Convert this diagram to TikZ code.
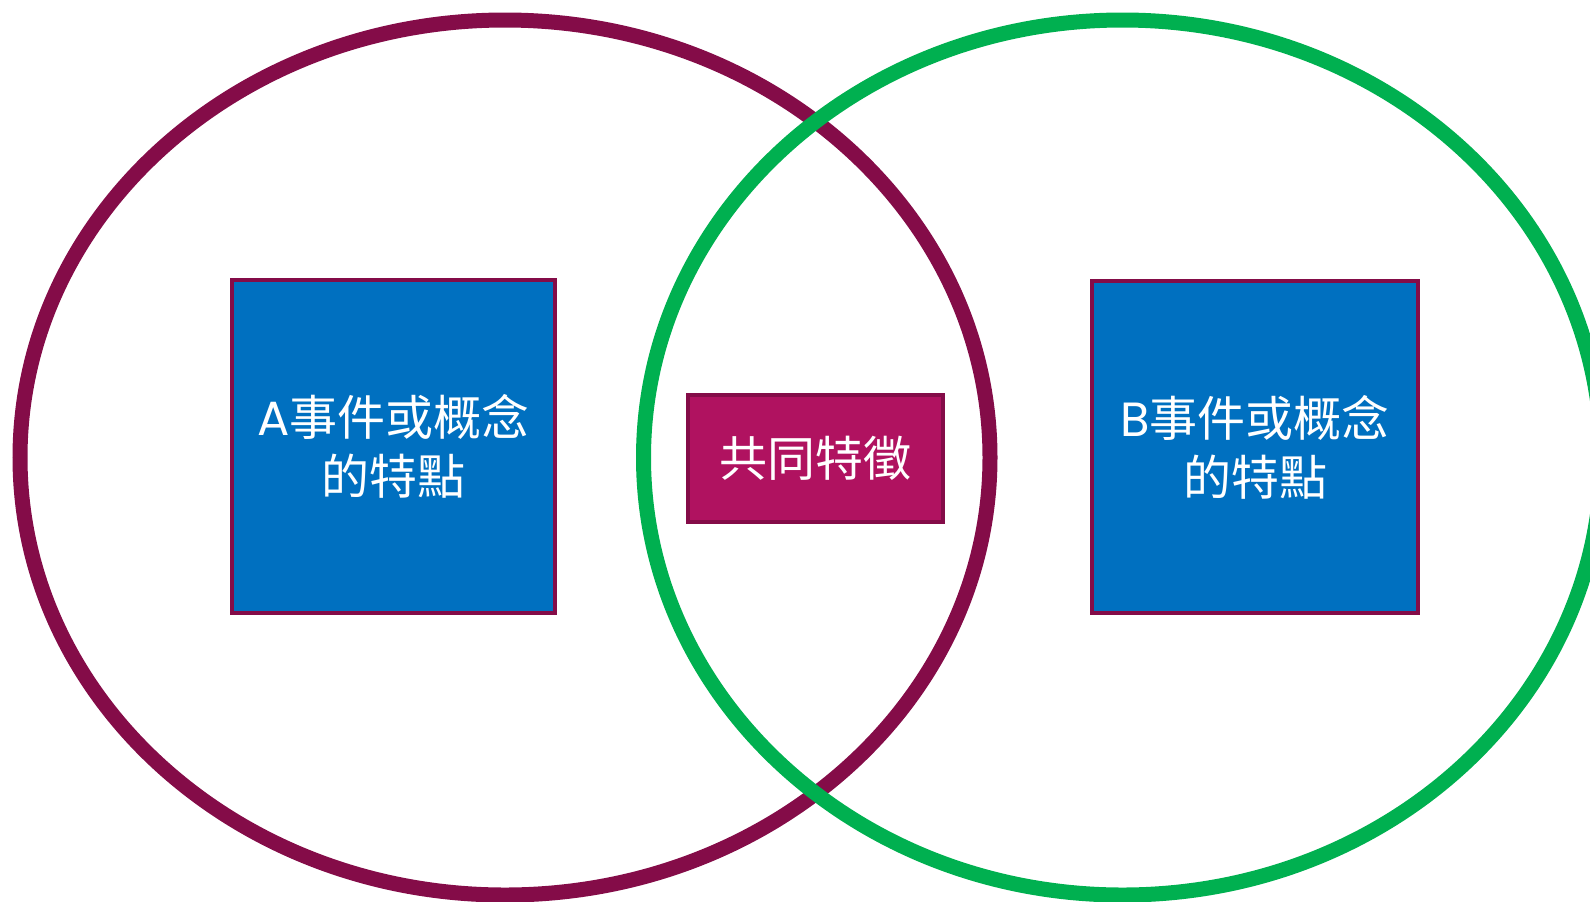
\documentclass[tikz,border=0pt]{standalone}
\usepackage{fontspec}
\newfontfamily\cjk{Noto Sans CJK TC}
\newfontfamily\latinf{Poppins}
\definecolor{plum}{HTML}{840C48}
\definecolor{vgreen}{HTML}{00B050}
\definecolor{vblue}{HTML}{0070C0}
\definecolor{vmag}{HTML}{B01260}
\tikzset{
  ring/.style={line width=7.5pt},
  featbox/.style={draw=plum, line width=1.7pt, fill=vblue, text=white, align=center,
    font=\cjk\fontsize{24}{29.5}\selectfont, inner sep=0pt},
  sharedbox/.style={draw=plum, line width=1.7pt, fill=vmag, text=white, align=center,
    font=\cjk\fontsize{24}{29.5}\selectfont, inner sep=0pt}
}
\begin{document}
\begin{tikzpicture}[x=0.5pt,y=-0.5pt]
\useasboundingbox (0,0) rectangle (1590,901);
\draw[ring, plum] (505,457.5) ellipse [x radius=242.5pt, y radius=218.75pt];
\draw[ring, vgreen] (1122.5,457.5) ellipse [x radius=239.5pt, y radius=218.75pt];
\node[featbox, minimum width=161.5pt, minimum height=166.5pt] (a) at (393.5,446.5)
  {{\latinf A}事件或概念\\的特點};
\node[sharedbox, minimum width=127.5pt, minimum height=63.5pt] (c) at (815.5,458.5)
  {共同特徵};
\node[featbox, minimum width=163pt, minimum height=166pt] (b) at (1255,447)
  {{\latinf B}事件或概念\\的特點};
\end{tikzpicture}
\end{document}
